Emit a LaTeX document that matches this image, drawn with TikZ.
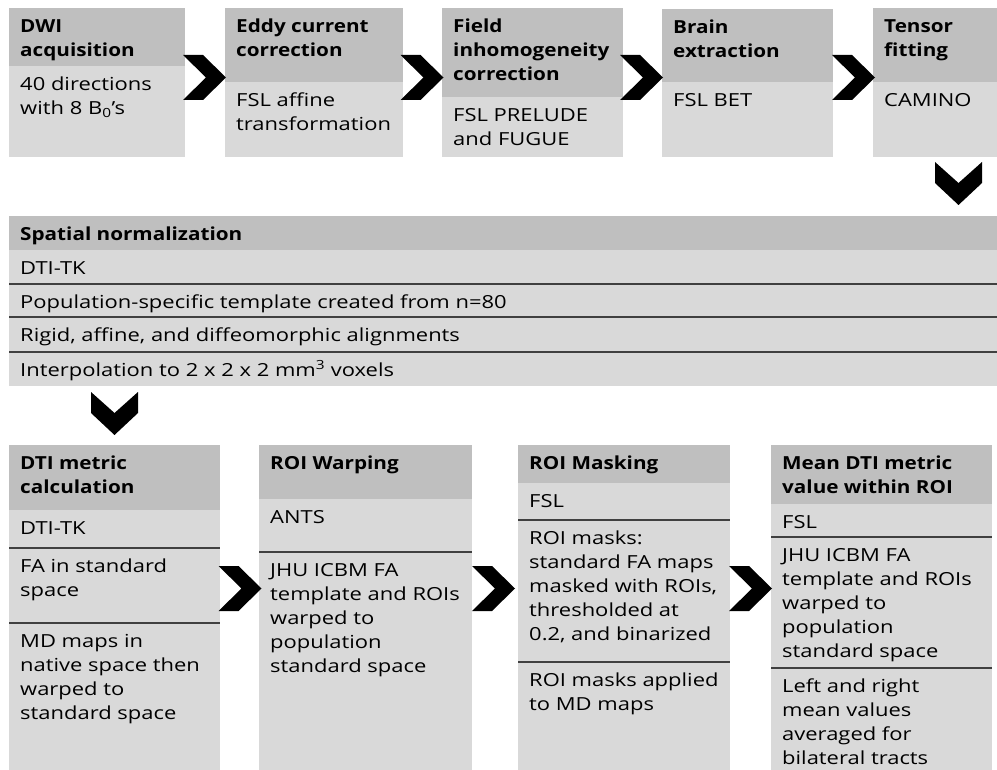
\documentclass[tikz,border=0pt]{standalone}
\usepackage{fontspec}
\setmainfont{Open Sans}
\newfontfamily\bodyfont{Open Sans}[FakeStretch=1.22]
\newfontfamily\hdrfont{Open Sans}[FakeStretch=1.15]
\usetikzlibrary{calc}
\definecolor{hdrgray}{HTML}{BFBFBF}
\definecolor{bodygray}{HTML}{D9D9D9}
\definecolor{rulegray}{HTML}{404040}
\tikzset{
  cellbox/.style={fill=bodygray, draw=none, inner sep=0pt, outer sep=0pt, anchor=north west},
  hdrbox/.style={cellbox, fill=hdrgray},
  txt/.style={anchor=north west, inner sep=0pt, align=left, font=\bodyfont\fontsize{18}{24}\selectfont},
  hdrtxt/.style={txt, font=\hdrfont\fontsize{18}{24}\selectfont\bfseries},
  chev/.style={fill=black},
  seprule/.style={draw=rulegray, line width=1.3pt},
}
% name, boxstyle, textstyle, x, y, w, h, text
\newcommand\mkcell[8]{%
  \node[#2, minimum width=#6, minimum height=#7] (#1) at (#4,#5) {};
  \node[#3] (#1-t) at ([xshift=11pt, yshift=-7pt]#1.north west) {\rule{0pt}{17pt}#8};}
\newcommand\chevright[1]{\fill[chev] ($(#1)+(-21.5,-22.5)$) -- ++(20,0) -- ++(23,22.5) -- ++(-23,22.5) -- ++(-20,0) -- ++(23,-22.5) -- cycle;}
\newcommand\chevdown[1]{\fill[chev] ($(#1)+(-23.5,-21.5)$) -- ++(23.5,21) -- ++(23.5,-21) -- ++(0,21) -- ++(-23.5,22) -- ++(-23.5,-22) -- cycle;}
\newcommand\seprow[1]{\draw[seprule] (#1.north west) -- (#1.north east);}
\begin{document}
\begin{tikzpicture}[x=1pt,y=-1pt]
\useasboundingbox (0,0) rectangle (997,770);
% top row
\mkcell{a1h}{hdrbox}{hdrtxt}{9}{8}{176}{58}{DWI\\acquisition}
\mkcell{a1b}{cellbox}{txt}{9}{66}{176}{91}{40 directions\\with 8 B\textsubscript{0}’s}
\mkcell{a2h}{hdrbox}{hdrtxt}{225}{8}{178}{74}{Eddy current\\correction}
\mkcell{a2b}{cellbox}{txt}{225}{82}{178}{75}{FSL affine\\transformation}
\mkcell{a3h}{hdrbox}{hdrtxt}{442}{8}{181}{89}{Field\\inhomogeneity\\correction}
\mkcell{a3b}{cellbox}{txt}{442}{97}{181}{60}{FSL PRELUDE\\and FUGUE}
\mkcell{a4h}{hdrbox}{hdrtxt}{662}{9}{171}{73}{Brain\\extraction}
\mkcell{a4b}{cellbox}{txt}{662}{82}{171}{75}{FSL BET}
\mkcell{a5h}{hdrbox}{hdrtxt}{873}{8}{124}{74}{Tensor\\fitting}
\mkcell{a5b}{cellbox}{txt}{873}{82}{124}{75}{CAMINO}
% spatial normalization
\mkcell{sh}{hdrbox}{hdrtxt}{9}{216}{988}{34}{Spatial normalization}
\mkcell{s1}{cellbox}{txt}{9}{250}{988}{34}{DTI-TK}
\mkcell{s2}{cellbox}{txt}{9}{284}{988}{33}{Population-specific template created from n=80}
\mkcell{s3}{cellbox}{txt}{9}{317}{988}{35}{Rigid, affine, and diffeomorphic alignments}
\mkcell{s4}{cellbox}{txt}{9}{352}{988}{34}{Interpolation to 2 x 2 x 2 mm\textsuperscript{3} voxels}
\seprow{s2}\seprow{s3}\seprow{s4}
% bottom row
\mkcell{bh}{hdrbox}{hdrtxt}{9}{445}{211}{65}{DTI metric\\calculation}
\mkcell{b1}{cellbox}{txt}{9}{510}{211}{38}{DTI-TK}
\mkcell{b2}{cellbox}{txt}{9}{548}{211}{75}{FA in standard\\space}
\mkcell{b3}{cellbox}{txt}{9}{623}{211}{147}{MD maps in\\native space then\\warped to\\standard space}
\seprow{b2}\seprow{b3}
\mkcell{ch}{hdrbox}{hdrtxt}{259}{445}{213}{54}{ROI Warping}
\mkcell{c1}{cellbox}{txt}{259}{499}{213}{53}{ANTS}
\mkcell{c2}{cellbox}{txt}{259}{552}{213}{218}{JHU ICBM FA\\template and ROIs\\warped to\\population\\standard space}
\seprow{c2}
\mkcell{dh}{hdrbox}{hdrtxt}{518}{445}{212}{38}{ROI Masking}
\mkcell{d1}{cellbox}{txt}{518}{483}{212}{37}{FSL}
\mkcell{d2}{cellbox}{txt}{518}{520}{212}{142}{ROI masks:\\standard FA maps\\masked with ROIs,\\thresholded at\\0.2, and binarized}
\mkcell{d3}{cellbox}{txt}{518}{662}{212}{108}{ROI masks applied\\to MD maps}
\seprow{d2}\seprow{d3}
\mkcell{eh}{hdrbox}{hdrtxt}{771}{445}{221}{59}{Mean DTI metric\\value within ROI}
\mkcell{e1}{cellbox}{txt}{771}{504}{221}{33}{FSL}
\mkcell{e2}{cellbox}{txt}{771}{537}{221}{131}{JHU ICBM FA\\template and ROIs\\warped to\\population\\standard space}
\mkcell{e3}{cellbox}{txt}{771}{668}{221}{102}{Left and right\\mean values\\averaged for\\bilateral tracts}
\seprow{e2}\seprow{e3}
% chevrons
\coordinate (k1) at (204.5,77.5);
\coordinate (k2) at (422,77.5);
\coordinate (k3) at (641.5,77.5);
\coordinate (k4) at (853.5,77.5);
\coordinate (kd1) at (958.5,183.5);
\coordinate (kd2) at (114.5,413.5);
\coordinate (m1) at (240,588.5);
\coordinate (m2) at (493.5,588.5);
\coordinate (m3) at (750.5,588.5);
\chevright{k1}\chevright{k2}\chevright{k3}\chevright{k4}
\chevdown{kd1}\chevdown{kd2}
\chevright{m1}\chevright{m2}\chevright{m3}
\end{tikzpicture}
\end{document}
